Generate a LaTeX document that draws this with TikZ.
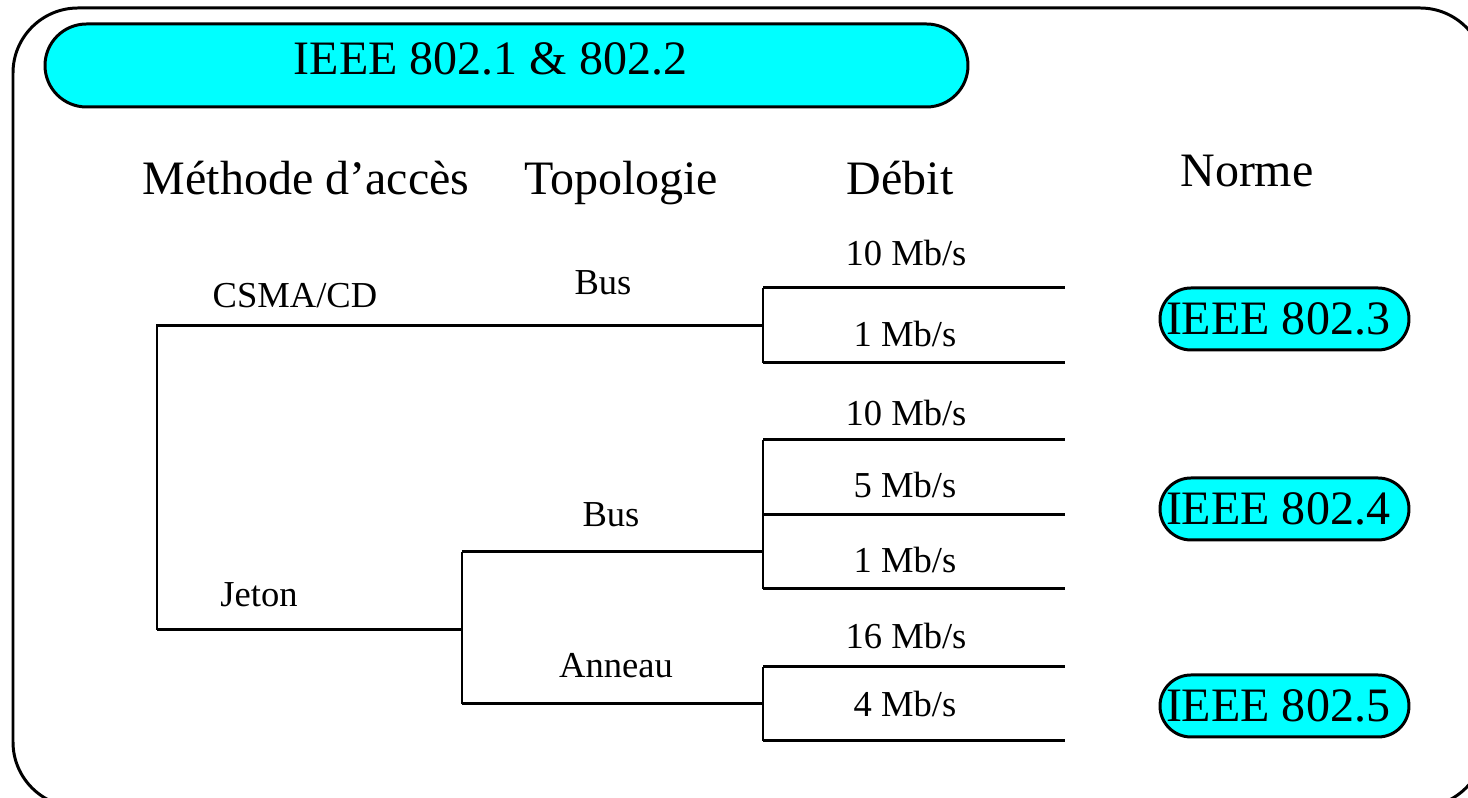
\documentclass[tikz,border=0pt]{standalone}
\usepackage{fontspec}
\setmainfont{Liberation Serif}
\usetikzlibrary{positioning}
\definecolor{pillcyan}{RGB}{0,255,255}
\tikzset{
	big/.style = {font=\fontsize{13.66}{16}\selectfont},
	small/.style = {font=\fontsize{10.4}{12}\selectfont, anchor=base},
	head/.style = {big, anchor=base},
	pill/.style = {draw, fill=pillcyan, big, rounded corners=0.31cm,
		minimum width=2.49cm, minimum height=0.62cm, inner xsep=0.04cm, inner ysep=0pt},
	titlebar/.style = {draw, fill=pillcyan, big, rounded corners=0.415cm,
		minimum width=9.23cm, minimum height=0.83cm, inner ysep=0pt,
		text height=0.33cm, text depth=0.14cm}
}
\begin{document}
\begin{tikzpicture}[line width=0.85pt]
\useasboundingbox (0,0) rectangle (14.68,-7.98);

% frame
\draw [rounded corners=0.65cm] (0.13,-0.08) rectangle (14.85,-8.07);

% NODES
% title and headers
\node (title) [titlebar] at (5.065,-0.655) {IEEE 802.1 \& 802.2\hspace*{0.32cm}};
\node (meth) [head] at (3.06,-1.95) {Méthode d’accès};
\node (topo) [head] at (6.21,-1.95) {Topologie};
\node (debit) [head] at (9.00,-1.95) {Débit};
\node (norme) [head] at (12.47,-1.87) {Norme};
% access methods and topologies
\node (csma) [small] at (2.95,-3.08) {CSMA/CD};
\node (jeton) [small] at (2.59,-6.07) {Jeton};
\node (busA) [small] at (6.03,-2.95) {Bus};
\node (busB) [small] at (6.11,-5.27) {Bus};
\node (anneau) [small] at (6.16,-6.78) {Anneau};
% rates
\node (r10a) [small] at (9.06,-2.66) {10 Mb/s};
\node (r1a) [small] at (9.05,-3.47) {1 Mb/s};
\node (r10b) [small] at (9.06,-4.26) {10 Mb/s};
\node (r5) [small] at (9.05,-4.98) {5 Mb/s};
\node (r1b) [small] at (9.05,-5.73) {1 Mb/s};
\node (r16) [small] at (9.06,-6.49) {16 Mb/s};
\node (r4) [small] at (9.05,-7.17) {4 Mb/s};
% standards
\node (ieee3) [pill] at (12.845,-3.19) {IEEE 802.3\hspace*{0.13cm}};
\node (ieee4) [pill] at (12.845,-5.09) {IEEE 802.4\hspace*{0.13cm}};
\node (ieee5) [pill] at (12.845,-7.06) {IEEE 802.5\hspace*{0.13cm}};

% branch points
\coordinate (acc-csma) at (1.57,-3.26);
\coordinate (acc-jeton) at (1.57,-6.30);
\coordinate (topo-jeton) at (4.62,-6.30);
\coordinate (topo-bus) at (4.62,-5.52);
\coordinate (topo-anneau) at (4.62,-7.04);

%CONNECTIONS
\foreach \n/\y in {la/2.88, lb/3.63, lc/4.40, ld/5.15, le/5.89, lf/6.67, lg/7.41} {
	\coordinate (\n-l) at (7.63,-\y);
	\coordinate (\n-r) at (10.65,-\y);
	\draw (\n-l) -- (\n-r);
}
\draw (la-l) -- (lb-l);
\draw (lc-l) -- (le-l);
\draw (lf-l) -- (lg-l);
\draw (acc-jeton) -- (acc-csma) -- (acc-csma -| la-l);
\draw (acc-jeton) -- (topo-jeton);
\draw (topo-bus) -- (topo-anneau);
\draw (topo-bus) -- (topo-bus -| lc-l);
\draw (topo-anneau) -- (topo-anneau -| lf-l);

\end{tikzpicture}
\end{document}
